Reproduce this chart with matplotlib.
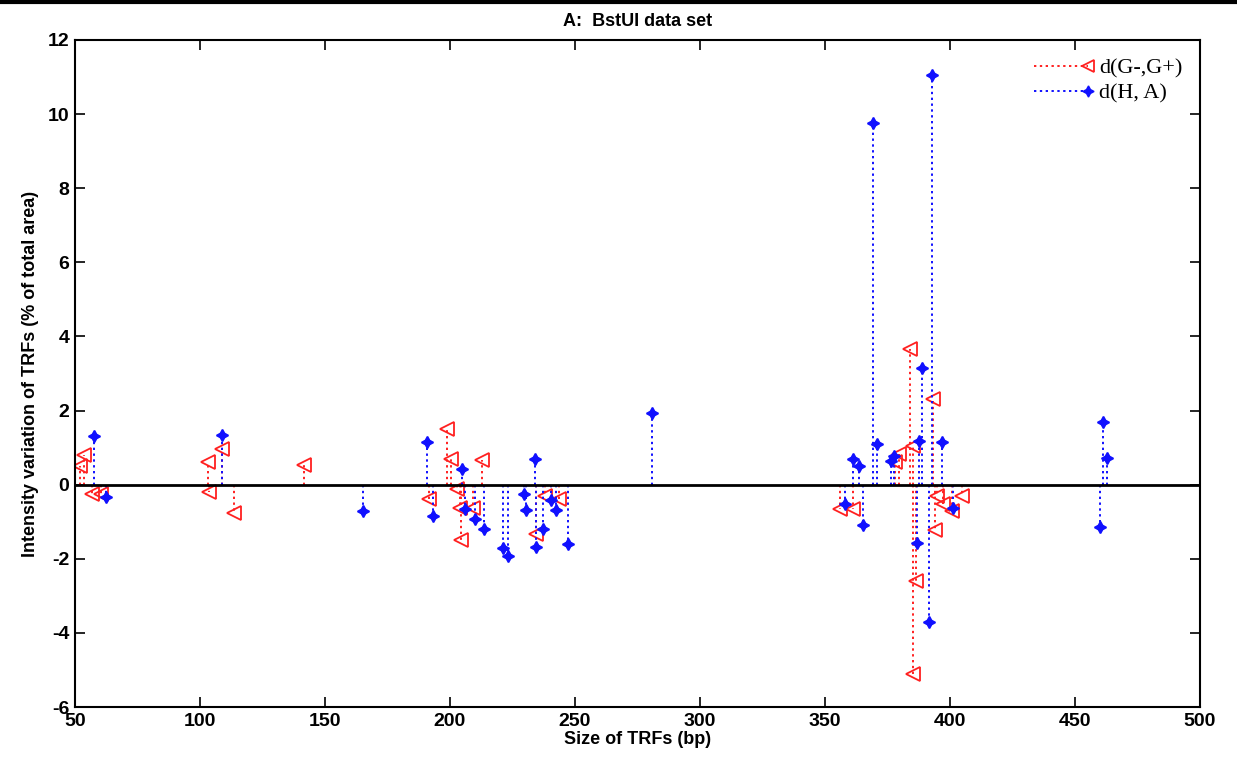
import matplotlib.pyplot as plt
from matplotlib.legend_handler import HandlerBase
from matplotlib.lines import Line2D

plt.rcParams["axes.unicode_minus"] = False

# d(G-,G+) : red open triangles
g_size = [52.0, 53.5, 56.8, 60.4, 103.0, 103.4, 108.8, 113.6, 141.6, 191.5,
          198.6, 200.4, 202.8, 204.0, 204.5, 209.2, 212.8, 234.4, 238.0, 243.6,
          356.0, 361.2, 378.0, 379.6, 384.0, 385.2, 386.4, 385.2, 393.2, 394.0,
          394.8, 397.2, 400.8, 404.8]
g_diff = [0.51, 0.80, -0.26, -0.25, 0.60, -0.19, 0.95, -0.77, 0.54, -0.39,
          1.50, 0.69, -0.12, -0.62, -1.48, -0.62, 0.66, -1.32, -0.30, -0.38,
          -0.65, -0.65, 0.60, 0.84, 3.67, 1.03, -2.59, -5.11, 2.32, -1.22,
          -0.30, -0.51, -0.72, -0.30]

# d(H, A) : blue stars
h_size = [57.4, 62.4, 108.8, 165.2, 190.8, 193.0, 204.8, 206.0, 210.0, 213.6,
          221.2, 223.2, 229.6, 230.4, 233.8, 234.4, 237.2, 240.4, 242.4, 247.2,
          280.8, 358.0, 361.2, 363.6, 365.2, 369.2, 370.8, 376.4, 377.6, 386.6,
          387.6, 388.8, 391.6, 392.8, 396.8, 401.2, 460.0, 461.2, 462.8]
h_diff = [1.30, -0.32, 1.33, -0.70, 1.14, -0.85, 0.43, -0.65, -0.92, -1.19,
          -1.70, -1.92, -0.24, -0.68, 0.70, -1.69, -1.19, -0.41, -0.68, -1.59,
          1.94, -0.51, 0.70, 0.51, -1.08, 9.75, 1.11, 0.65, 0.78, -1.58,
          1.19, 3.16, -3.70, 11.05, 1.16, -0.62, -1.13, 1.68, 0.73]

x_ticks = list(range(50, 501, 50))
y_ticks = list(range(-6, 13, 2))

RED = "#ff2020"
BLUE = "#1010ff"
STAR = (4, 1, 0)
DOTS = (0, (1.2, 1.8))


class StemHandler(HandlerBase):
    # dotted line with the marker only at its right end, like the matlab legend
    def create_artists(self, legend, orig_handle, xdescent, ydescent, width, height, fontsize, trans):
        y = height / 2 - ydescent
        line = Line2D([-xdescent, -xdescent + width], [y, y])
        line.update_from(orig_handle)
        line.set_marker("None")
        mk = Line2D([-xdescent + width], [y])
        mk.update_from(orig_handle)
        mk.set_linestyle("None")
        line.set_transform(trans)
        mk.set_transform(trans)
        return [line, mk]


fig = plt.figure(figsize=(12.37, 7.62), dpi=100)
ax = fig.add_axes([75 / 1237, 1 - 707 / 762, 1125 / 1237, 667 / 762])

ax.vlines(g_size, 0, g_diff, colors=RED, linestyles=DOTS, linewidth=1.4)
ax.plot(g_size, g_diff, ls="none", marker="<", ms=10, mfc="none", mec=RED, mew=1.3)
ax.vlines(h_size, 0, h_diff, colors=BLUE, linestyles=DOTS, linewidth=1.4)
ax.plot(h_size, h_diff, ls="none", marker=STAR, ms=8.5, mfc=BLUE, mec=BLUE, mew=1.2)
ax.axhline(0, color="black", lw=2)

ax.set_xlim(50, 500)
ax.set_ylim(-6, 12)
ax.set_xticks(x_ticks)
ax.set_yticks(y_ticks)
ax.tick_params(direction="in", top=True, right=True, length=7, width=1.2, pad=4)
for lab in ax.get_xticklabels() + ax.get_yticklabels():
    lab.set_fontfamily("Liberation Sans")
    lab.set_fontweight("bold")
    lab.set_fontsize(14)
for s in ax.spines.values():
    s.set_linewidth(1.5)

ax.set_xlabel("Size of TRFs (bp)", fontfamily="Liberation Sans", fontweight="bold", fontsize=13, labelpad=1)
ax.set_ylabel("Intensity variation of TRFs (% of total area)", fontfamily="Liberation Sans",
              fontweight="bold", fontsize=13, labelpad=6)
ax.set_title("A:  BstUI data set", fontfamily="Liberation Sans", fontweight="bold", fontsize=13, pad=10)

handles = [
    Line2D([], [], color=RED, ls=DOTS, lw=1.4, marker="<", ms=9, mfc="none", mec=RED, mew=1.3),
    Line2D([], [], color=BLUE, ls=DOTS, lw=1.4, marker=STAR, ms=8, mfc=BLUE, mec=BLUE),
]
ax.legend(handles, ["d(G-,G+)", "d(H, A)"], loc="upper right", frameon=False,
          handler_map={Line2D: StemHandler()}, handlelength=2.4, handletextpad=0.5,
          labelspacing=0.2, borderaxespad=0.4, prop={"family": "Liberation Serif", "size": 16})

fig.add_artist(Line2D([0, 1], [1 - 2 / 762, 1 - 2 / 762], color="black", lw=3,
                      transform=fig.transFigure))

fig.savefig("out.png", dpi=100)
